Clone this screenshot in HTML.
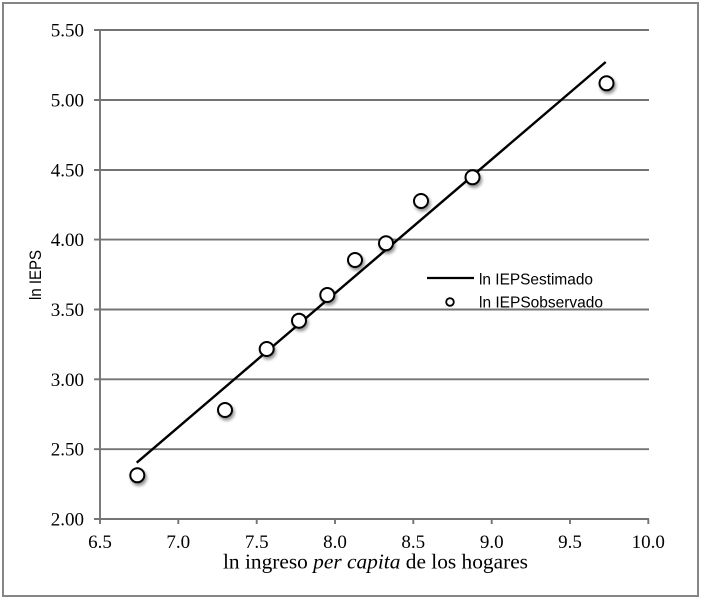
<!DOCTYPE html>
<html><head><meta charset="utf-8"><style>
html,body{margin:0;padding:0;background:#fff;}
svg{display:block;}
</style></head><body>
<svg width="704" height="601" viewBox="0 0 704 601" xmlns="http://www.w3.org/2000/svg">
<defs>
<filter id="sh" x="-50%" y="-50%" width="200%" height="200%">
<feGaussianBlur in="SourceAlpha" stdDeviation="1.6"/>
<feOffset dx="1.5" dy="2.5" result="b"/>
<feComponentTransfer><feFuncA type="linear" slope="0.45"/></feComponentTransfer>
<feMerge><feMergeNode/><feMergeNode in="SourceGraphic"/></feMerge>
</filter>
</defs>
<rect x="0" y="0" width="704" height="601" fill="#fff"/>
<rect x="3" y="3" width="695" height="593" fill="none" stroke="#858585" stroke-width="2"/>
<g stroke="#747474" stroke-width="1.9">
<line x1="94" y1="30" x2="649" y2="30"/>
<line x1="94" y1="100" x2="649" y2="100"/>
<line x1="94" y1="170" x2="649" y2="170"/>
<line x1="94" y1="239.6" x2="649" y2="239.6"/>
<line x1="94" y1="309.5" x2="649" y2="309.5"/>
<line x1="94" y1="379.3" x2="649" y2="379.3"/>
<line x1="94" y1="449.2" x2="649" y2="449.2"/>
<line x1="94" y1="519" x2="649" y2="519"/>
<line x1="100" y1="30" x2="100" y2="519"/>
<line x1="100" y1="519" x2="100" y2="524"/>
<line x1="178.3" y1="519" x2="178.3" y2="524"/>
<line x1="256.7" y1="519" x2="256.7" y2="524"/>
<line x1="335" y1="519" x2="335" y2="524"/>
<line x1="413.3" y1="519" x2="413.3" y2="524"/>
<line x1="491.7" y1="519" x2="491.7" y2="524"/>
<line x1="570" y1="519" x2="570" y2="524"/>
<line x1="648.3" y1="519" x2="648.3" y2="524"/>
</g>
<g font-family="'Liberation Serif', serif" font-size="19" fill="#000" text-anchor="end">
<text x="84" y="36.5">5.50</text>
<text x="84" y="106.5">5.00</text>
<text x="84" y="176.5">4.50</text>
<text x="84" y="246">4.00</text>
<text x="84" y="316">3.50</text>
<text x="84" y="385.8">3.00</text>
<text x="84" y="455.7">2.50</text>
<text x="84" y="525.5">2.00</text>
</g>
<g font-family="'Liberation Serif', serif" font-size="19" fill="#000" text-anchor="middle">
<text x="100" y="548">6.5</text>
<text x="178.3" y="548">7.0</text>
<text x="256.7" y="548">7.5</text>
<text x="335" y="548">8.0</text>
<text x="413.3" y="548">8.5</text>
<text x="491.7" y="548">9.0</text>
<text x="570" y="548">9.5</text>
<text x="648.3" y="548">10.0</text>
</g>
<text x="223" y="568.5" font-family="'Liberation Serif', serif" font-size="21" fill="#000" textLength="305" lengthAdjust="spacingAndGlyphs">ln ingreso <tspan font-style="italic">per capita</tspan> de los hogares</text>
<text transform="translate(41,300) rotate(-90)" font-family="'Liberation Sans', sans-serif" font-size="16.5" fill="#000" textLength="50" lengthAdjust="spacingAndGlyphs">ln IEPS</text>
<line x1="136.7" y1="462.7" x2="605.7" y2="62" stroke="#000" stroke-width="2.4"/>
<g fill="#fff" stroke="#000" stroke-width="2" filter="url(#sh)">
<circle cx="137.3" cy="475.3" r="7"/>
<circle cx="225" cy="410" r="7"/>
<circle cx="266.7" cy="349" r="7"/>
<circle cx="299" cy="320.7" r="7"/>
<circle cx="327.3" cy="295" r="7"/>
<circle cx="355" cy="260" r="7"/>
<circle cx="386" cy="243.3" r="7"/>
<circle cx="421" cy="201" r="7"/>
<circle cx="472.5" cy="177.3" r="7"/>
<circle cx="606.5" cy="83.3" r="7"/>
</g>
<line x1="427" y1="278" x2="474" y2="278" stroke="#000" stroke-width="2.2"/>
<circle cx="450" cy="302" r="3.8" fill="#fff" stroke="#000" stroke-width="1.8"/>
<g font-family="'Liberation Sans', sans-serif" font-size="16" fill="#000">
<text x="479" y="284.5" textLength="114" lengthAdjust="spacingAndGlyphs">ln IEPSestimado</text>
<text x="479" y="307.5" textLength="124" lengthAdjust="spacingAndGlyphs">ln IEPSobservado</text>
</g>
</svg>
</body></html>
